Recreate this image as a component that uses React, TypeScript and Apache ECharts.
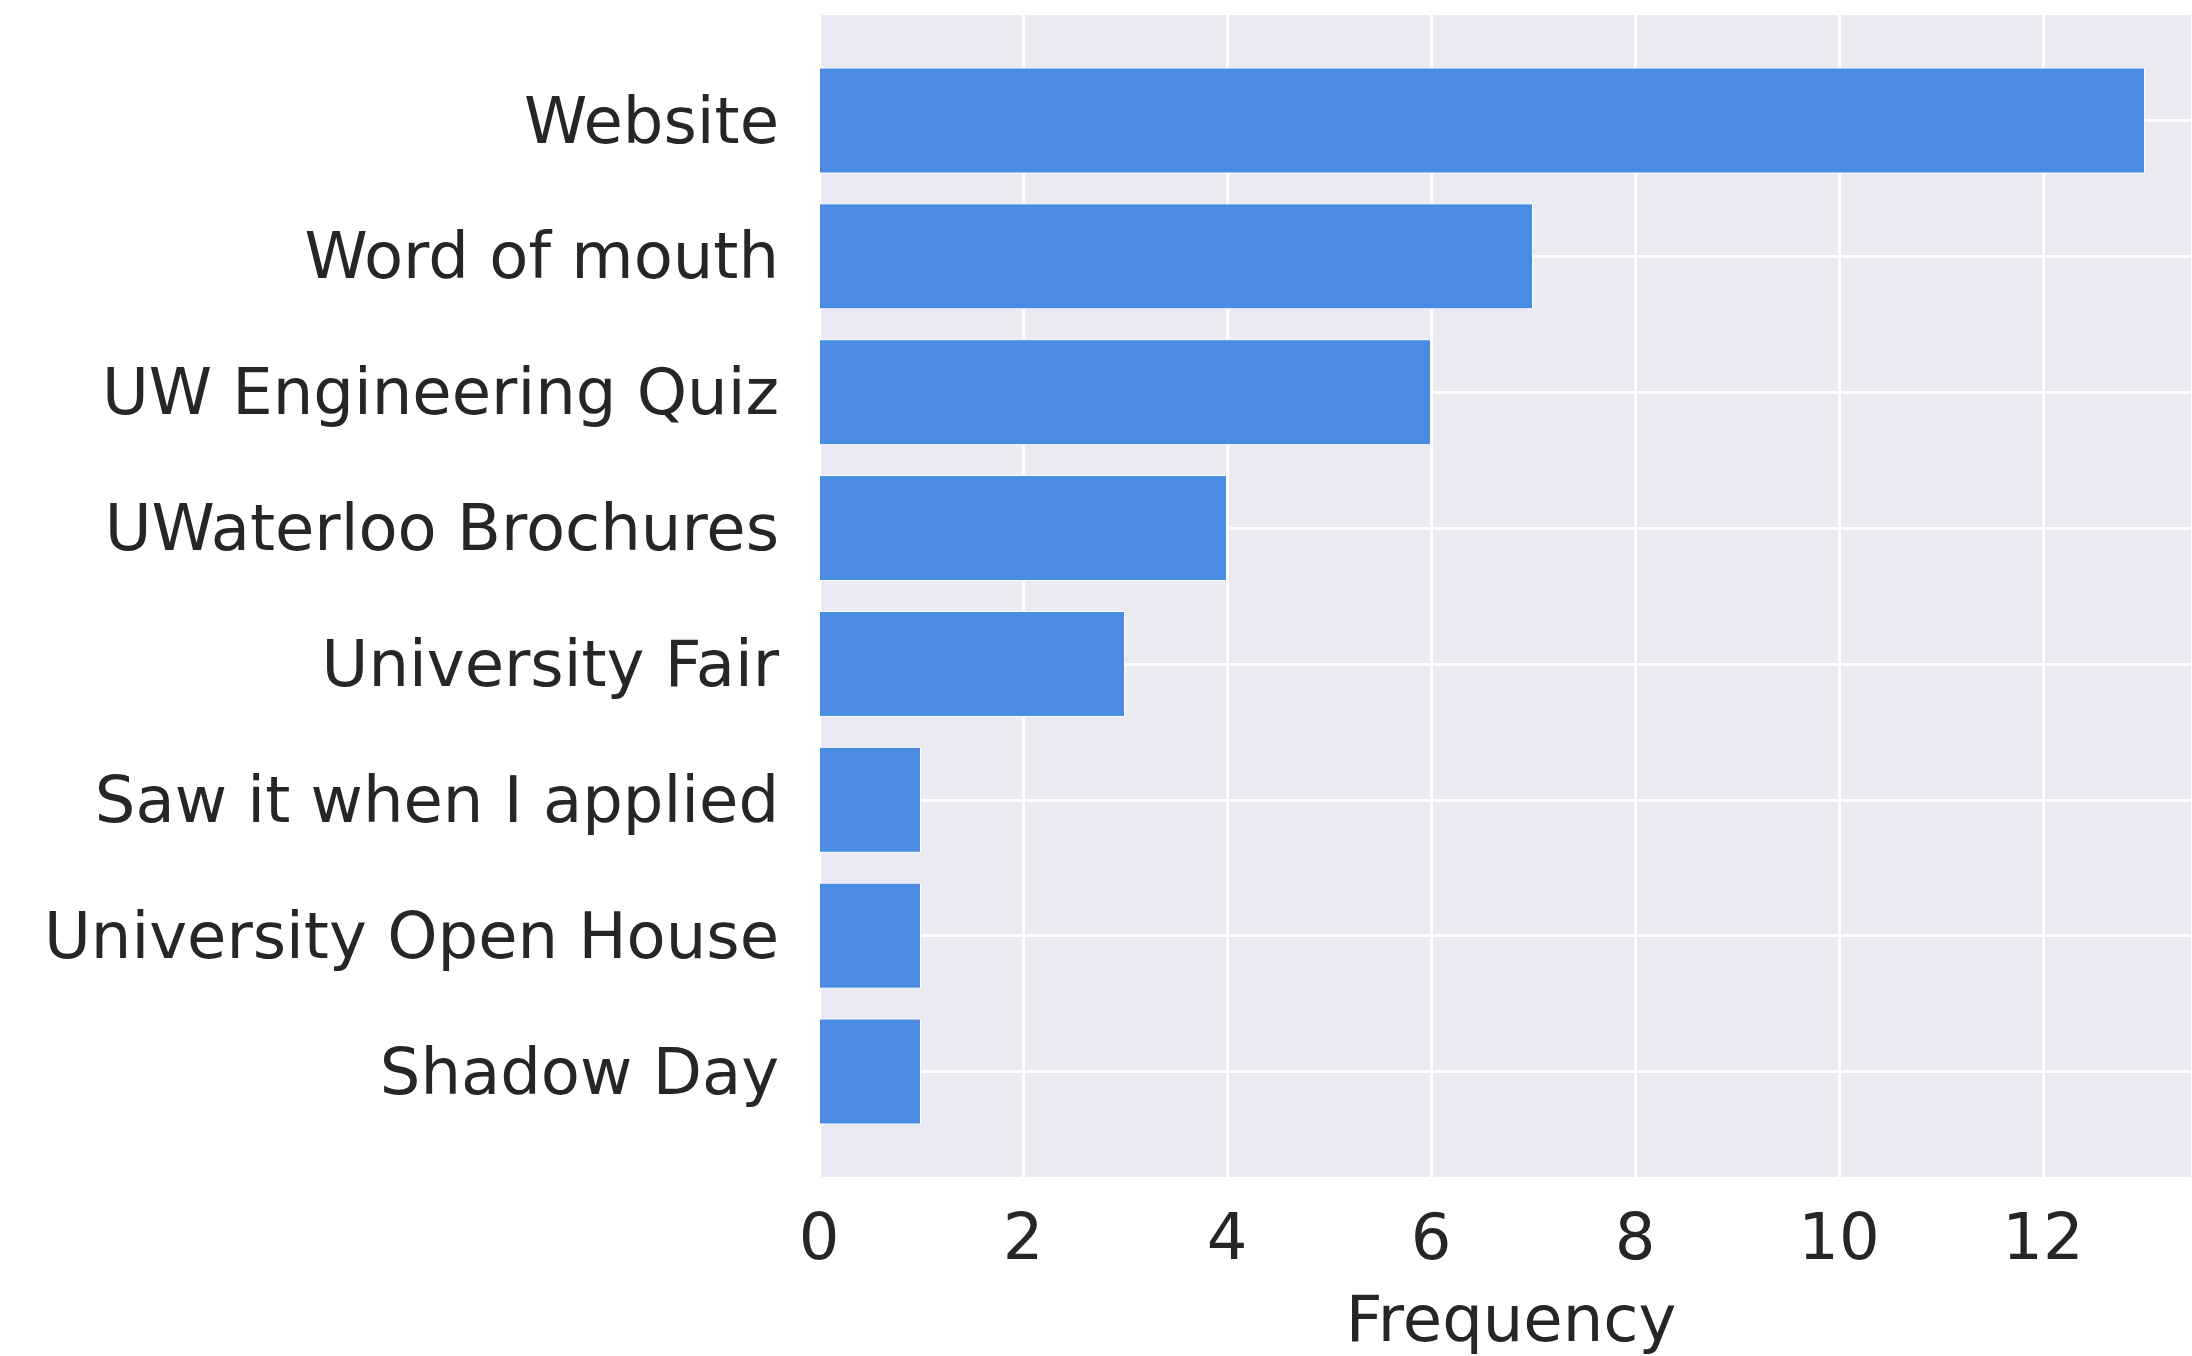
import React, { useEffect, useRef } from "react";
import * as echarts from "echarts";

const categories = [
  "Website",
  "Word of mouth",
  "UW Engineering Quiz",
  "UWaterloo Brochures",
  "University Fair",
  "Saw it when I applied",
  "University Open House",
  "Shadow Day",
];
const frequencies = [13, 7, 6, 4, 3, 1, 1, 1];
const xTickInterval = 2;
const xMin = 0;
const xMax = 13.46;
const xAxisTitle = "Frequency";

const FONT = "DejaVu Sans";
const TEXT = "#262626";
const BG = "#EAEAF2";
const BAR = "#4A8BE4";

export default function App() {
  const ref = useRef<HTMLDivElement>(null);
  useEffect(() => {
    if (!ref.current) return;
    const chart = echarts.init(ref.current, null, { renderer: "svg" });
    chart.setOption({
      animation: false,
      backgroundColor: "#ffffff",
      grid: [
        {
          left: 819,
          top: 15,
          right: 0,
          height: 1162,
          show: true,
          backgroundColor: BG,
          borderWidth: 0,
          containLabel: false,
          outerBoundsMode: "none",
        },
        {
          left: 819,
          top: 120.5,
          right: 0,
          height: 951,
          show: false,
          containLabel: false,
          outerBoundsMode: "none",
        },
      ],
      xAxis: [
        {
          gridIndex: 0,
          type: "value",
          min: xMin,
          max: xMax,
          interval: xTickInterval,
          axisLine: { show: false },
          axisTick: { show: false },
          splitLine: { show: true, lineStyle: { color: "#ffffff", width: 3 } },
          axisLabel: {
            show: true,
            showMaxLabel: false,
            color: TEXT,
            fontFamily: FONT,
            fontSize: 64,
            margin: 28,
          },
          name: xAxisTitle,
          nameLocation: "middle",
          nameGap: 110,
          nameTextStyle: {
            color: TEXT,
            fontFamily: FONT,
            fontSize: 64,
            padding: [0, 0, 0, 11],
          },
        },
        {
          gridIndex: 1,
          type: "value",
          min: xMin,
          max: xMax,
          show: false,
          splitLine: { show: false },
        },
      ],
      yAxis: [
        {
          gridIndex: 0,
          type: "value",
          min: 0,
          max: 1,
          show: false,
          splitLine: { show: false },
        },
        {
          gridIndex: 1,
          type: "category",
          inverse: true,
          boundaryGap: false,
          data: categories,
          axisLine: { show: false },
          axisTick: { show: false },
          splitLine: { show: true, lineStyle: { color: "#ffffff", width: 3 } },
          axisLabel: {
            color: TEXT,
            fontFamily: FONT,
            fontSize: 64,
            margin: 40,
            interval: 0,
          },
        },
      ],
      series: [
        {
          type: "bar",
          xAxisIndex: 1,
          yAxisIndex: 1,
          data: frequencies,
          barWidth: 106,
          clip: false,
          itemStyle: { color: BAR, borderColor: "#ffffff", borderWidth: 1 },
        },
      ],
    });
    return () => chart.dispose();
  }, []);
  return (
    <div
      ref={ref}
      style={{ position: "fixed", left: 0, top: 0, width: 2192, height: 1356 }}
    />
  );
}
